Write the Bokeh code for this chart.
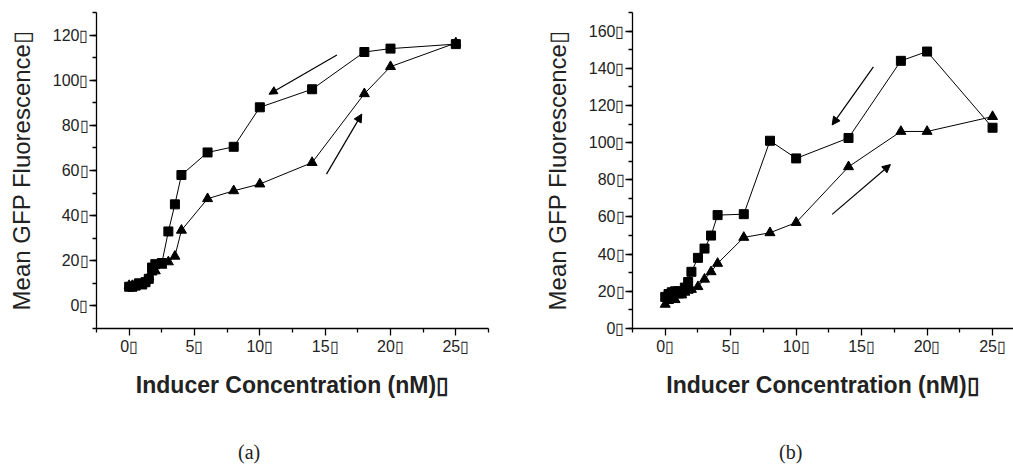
from bokeh.plotting import figure
from bokeh.layouts import row, column
from bokeh.models import FixedTicker, Range1d, Arrow, NormalHead, Div
from bokeh.embed import file_html
from bokeh.resources import INLINE

# inducer concentrations (nM), same for both panels
conc = [0, 0.25, 0.5, 0.75, 1, 1.25, 1.5, 1.75, 2, 2.5, 3, 3.5, 4, 6, 8, 10, 14, 18, 20, 25]

# panel (a)
a_down = [8.5, 8.5, 9, 10, 9.5, 10.5, 12, 17, 18.5, 19, 33, 45, 58, 68, 70.5, 88, 96, 112.5, 114, 116]
a_up = [9, 9, 9, 9.5, 10, 11, 13, 15, 15.5, 18, 19.5, 22, 33.5, 47.5, 51, 54, 63.5, 94, 106, 116.5]

# panel (b)
b_down = [17, 18.5, 19.5, 20, 20, 19.5, 22, 25, 30.5, 38, 43, 50, 61, 61.5, 101, 91.5, 102.5, 144, 149, 108]
b_up = [13, 15, 16, 15.5, 18, 18, 19.5, 20.5, 21, 22.5, 26.5, 30.5, 35, 49, 51.5, 57, 87, 106, 106, 114]

x_ticks = [0, 5, 10, 15, 20, 25]
a_yticks = [0, 20, 40, 60, 80, 100, 120]
b_yticks = [0, 20, 40, 60, 80, 100, 120, 140, 160]

# arrows: (x_start, y_start, x_end, y_end)
a_arrows = [(15.9, 111.2, 10.7, 93.8), (15.1, 58.4, 17.8, 85.0)]
b_arrows = [(15.9, 140.7, 12.75, 109.5), (12.75, 61.4, 17.2, 88.2)]

BOX = "\u25af"


def make_panel(down, up, yticks, yr, xr, width, right, arrows):
    p = figure(width=width, height=442, output_backend="svg", toolbar_location=None,
               x_range=Range1d(*xr), y_range=Range1d(*yr),
               min_border_left=96, min_border_right=right,
               min_border_top=12, min_border_bottom=114)
    p.outline_line_color = None
    p.xgrid.visible = False
    p.ygrid.visible = False

    p.line(conc, down, line_color="black", line_width=1)
    p.line(conc, up, line_color="black", line_width=1)
    p.scatter(conc, down, marker="square", size=9, color="black")
    p.scatter(conc, up, marker="triangle", size=10, color="black")

    for xs, ys, xe, ye in arrows:
        p.add_layout(Arrow(x_start=xs, y_start=ys, x_end=xe, y_end=ye, line_width=1.2,
                           end=NormalHead(size=8, fill_color="black", line_color="black")))

    xminor = [v + 2.5 for v in [-5] + x_ticks]
    p.xaxis.ticker = FixedTicker(ticks=x_ticks, minor_ticks=xminor)
    p.xaxis.major_label_overrides = {v: str(v) + BOX for v in x_ticks}
    yminor = list(range(int(yr[0]), int(yr[1]) + 1, 10))
    p.yaxis.ticker = FixedTicker(ticks=yticks, minor_ticks=yminor)
    p.yaxis.major_label_overrides = {v: str(v) + BOX for v in yticks}

    for ax in (p.xaxis, p.yaxis):
        ax.axis_line_width = 1.3
        ax.major_tick_line_width = 1.3
        ax.minor_tick_line_width = 1.3
        ax.major_tick_in = 0
        ax.major_tick_out = 7
        ax.minor_tick_in = 0
        ax.minor_tick_out = 4
        ax.major_label_text_font = "Liberation Sans"
        ax.major_label_text_font_size = "16px"
        ax.major_label_text_color = "#222222"
        ax.axis_label_text_color = "#222222"
        ax.axis_label_text_font = "Liberation Sans"

    p.xaxis.axis_label = "Inducer Concentration (nM)" + BOX
    p.xaxis.axis_label_text_font_style = "bold"
    p.xaxis.axis_label_text_font_size = "23px"
    p.xaxis.axis_label_standoff = 14
    p.xaxis.major_label_standoff = 2
    p.yaxis.axis_label = "Mean GFP Fluorescence" + BOX
    p.yaxis.axis_label_text_font_style = "normal"
    p.yaxis.axis_label_text_font_size = "24px"
    p.yaxis.axis_label_standoff = 15
    p.yaxis.major_label_standoff = 1
    return p


def caption(text, left):
    return Div(text=text, width=30, height=24, margin=(0, 0, 0, left),
               styles={"font-family": "Liberation Serif", "font-size": "20px",
                       "line-height": "20px", "color": "#222222"})


pa = make_panel(a_down, a_up, a_yticks, (-10, 130), (-2.5, 27.5), 536, 48, a_arrows)
pb = make_panel(b_down, b_up, b_yticks, (0, 170), (-2.5, 26.6), 477, 0, b_arrows)

layout = column(row(pa, pb), row(caption("(a)", 238), caption("(b)", 511)), spacing=0)
open("out.html", "w").write(file_html(layout, INLINE))
